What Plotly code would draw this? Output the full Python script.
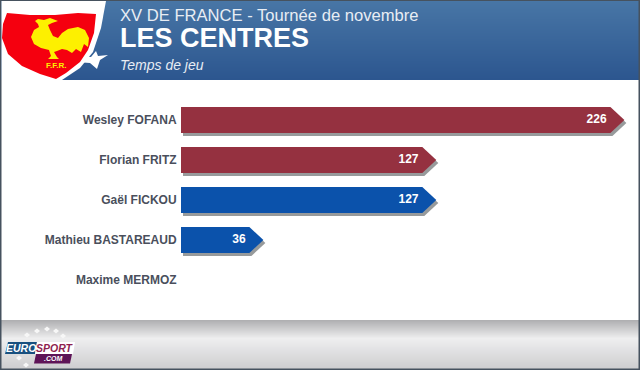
import plotly.graph_objects as go

players = ["Wesley FOFANA", "Florian FRITZ", "Gaël FICKOU", "Mathieu BASTAREAUD", "Maxime MERMOZ"]
minutes = [226, 127, 127, 36, 0]
colors = ["#953140", "#953140", "#0b52ab", "#0b52ab", "#0b52ab"]

W, H = 640, 370
PX = 1.9          # pixels per minute
TIP = 14 / PX     # arrow tip length, in minutes
HALF = 13 / 40    # half bar height, in rows


def X(p):
    return p / W


def Y(p):
    return 1 - p / H


def path(points):
    return "M " + " L ".join(f"{X(a):.5f},{Y(b):.5f}" for a, b in points) + " Z"


def mix(c1, c2, t):
    return "rgb(" + ",".join(str(round(a + (b - a) * t)) for a, b in zip(c1, c2)) + ")"


shapes = []


def rect(x0, y0, x1, y1, color, layer="below"):
    shapes.append(dict(type="rect", xref="paper", yref="paper", x0=X(x0), x1=X(x1), y0=Y(y0), y1=Y(y1),
                       fillcolor=color, line_width=0, layer=layer))


def poly(points, color, layer="above"):
    shapes.append(dict(type="path", xref="paper", yref="paper", path=path(points),
                       fillcolor=color, line_width=0, layer=layer))


# header gradient
for i in range(80):
    t = i / 79
    rect(0, i, 640, i + 1, mix((72, 118, 166), (44, 86, 143), t))
# footer gradient
for i in range(320, 370):
    if i < 338:
        c = mix((176, 176, 178), (238, 238, 239), (i - 320) / 18)
    else:
        c = mix((238, 238, 239), (204, 204, 206), (i - 338) / 32)
    rect(0, i, 640, i + 1, c)
# frame
border = "#46525f"
rect(0, 0, 640, 1, border, "above")
rect(0, 368.5, 640, 370, border, "above")
rect(0, 0, 1.5, 370, border, "above")
rect(638.5, 0, 640, 370, border, "above")

# white swoosh + star
poly([(1.5, 1), (106, 1), (101, 28), (93, 52), (80, 68), (62, 80), (1.5, 80)], "#ffffff")
poly([(75, 56), (91, 57), (96, 51), (98, 56), (108, 55), (100, 60), (97, 69), (90, 63), (76, 62), (86, 60)], "#ffffff")
# shield
poly([(7, 13), (30, 15), (55, 15), (78, 13), (96, 14), (94, 33), (88, 50), (80, 62), (66, 73), (56, 79),
      (40, 74), (22, 66), (8, 54), (2, 38), (3, 24)], "#f5000f")
# rooster
poly([(35, 21), (38, 19), (44, 20), (50, 18), (58, 21), (52, 23), (48, 25), (50, 30), (53, 36), (58, 38), (62, 33),
      (68, 29), (78, 27), (85, 30), (89, 38), (88, 47), (84, 44), (81, 52), (76, 49), (72, 53), (67, 50), (62, 49),
      (57, 51), (54, 52), (57, 57), (59, 59), (48, 59), (51, 56), (49, 50), (41, 48), (34, 44), (31, 37), (34, 30),
      (39, 27), (38, 24)], "#fdf000")

# Eurosport logo
poly([(8, 342), (37, 342), (35, 354), (5, 354)], "#18507f")
poly([(37, 342), (75, 342), (73, 354), (35, 354)], "#ffffff")
poly([(36, 354), (72, 354), (70, 363.5), (34, 363.5)], "#5e1457")
for sx, sy in [(27, 335), (37, 331), (47, 329), (56, 331), (63, 336), (19, 358), (26, 365)]:
    poly([(sx - 3, sy), (sx, sy - 2.5), (sx + 3, sy), (sx, sy + 2.5)], "#f7f7f7")

rows = list(range(len(players)))
fig = go.Figure()

# shadows and arrow bodies as filled outlines in data coordinates
for i, (v, c) in enumerate(zip(minutes, colors)):
    if v == 0:
        continue
    dx, dy = 2 / PX, 3 / 40
    fig.add_trace(go.Scatter(
        x=[dx, v + dx, v + TIP + dx, v + dx, dx],
        y=[i - HALF + dy, i - HALF + dy, i + dy, i + HALF + dy, i + HALF + dy],
        fill="toself", fillcolor="#979a9b", mode="none", hoverinfo="skip", showlegend=False))
    fig.add_trace(go.Scatter(
        x=[0, v, v + TIP, v, 0],
        y=[i - HALF, i - HALF, i, i + HALF, i + HALF],
        fill="toself", fillcolor=c, mode="none", hoverinfo="skip", showlegend=False))

fig.add_trace(go.Scatter(
    x=[v - 2 for v in minutes if v > 0], y=[r for r, v in zip(rows, minutes) if v > 0],
    text=[str(v) for v in minutes if v > 0], mode="text", textposition="middle left",
    textfont=dict(family="Liberation Sans", size=12, color="#ffffff", weight="bold"),
    hoverinfo="skip", showlegend=False))

fig.update_layout(
    width=W, height=H, margin=dict(l=0, r=0, t=0, b=0), paper_bgcolor="#ffffff", plot_bgcolor="rgba(0,0,0,0)",
    shapes=shapes,
    xaxis=dict(domain=[181 / W, 1], range=[0, 459 / PX], visible=False, fixedrange=True),
    yaxis=dict(domain=[0, 1], range=[(370 - 120) / 40, -120 / 40], tickmode="array", tickvals=rows, ticktext=players,
               tickfont=dict(family="Liberation Sans", size=12, color="#4a4f5c", weight="bold"),
               showgrid=False, zeroline=False, showline=False, ticks="outside", ticklen=1,
               tickcolor="rgba(0,0,0,0)", fixedrange=True),
    annotations=[
        dict(text="XV DE FRANCE - Tournée de novembre", x=X(118), y=Y(15), xref="paper", yref="paper",
             xanchor="left", yanchor="middle", showarrow=False,
             font=dict(family="Liberation Sans", size=16.6, color="#e8edf4")),
        dict(text="<b>LES CENTRES</b>", x=X(118), y=Y(38), xref="paper", yref="paper",
             xanchor="left", yanchor="middle", showarrow=False,
             font=dict(family="Liberation Sans", size=27, color="#ffffff")),
        dict(text="<i>Temps de jeu</i>", x=X(118), y=Y(65), xref="paper", yref="paper",
             xanchor="left", yanchor="middle", showarrow=False,
             font=dict(family="Liberation Sans", size=14, color="#e8edf4")),
        dict(text="<b><i>EURO</i></b>", x=X(21), y=Y(348), xref="paper", yref="paper", xanchor="center",
             yanchor="middle", showarrow=False, font=dict(family="Liberation Sans", size=10.5, color="#ffffff")),
        dict(text="<b><i>SPORT</i></b>", x=X(55), y=Y(348), xref="paper", yref="paper", xanchor="center",
             yanchor="middle", showarrow=False, font=dict(family="Liberation Sans", size=10.5, color="#8f1f4f")),
        dict(text="<b><i>.COM</i></b>", x=X(53), y=Y(358.7), xref="paper", yref="paper", xanchor="center",
             yanchor="middle", showarrow=False, font=dict(family="Liberation Sans", size=7, color="#ffffff")),
        dict(text="<b>F.F.R.</b>", x=X(56), y=Y(65), xref="paper", yref="paper", xanchor="center",
             yanchor="middle", showarrow=False, font=dict(family="Liberation Sans", size=8, color="#fdf000")),
    ],
)

fig.write_html("out.html", config={"displayModeBar": False},
               post_script="document.body.style.margin='0';")
